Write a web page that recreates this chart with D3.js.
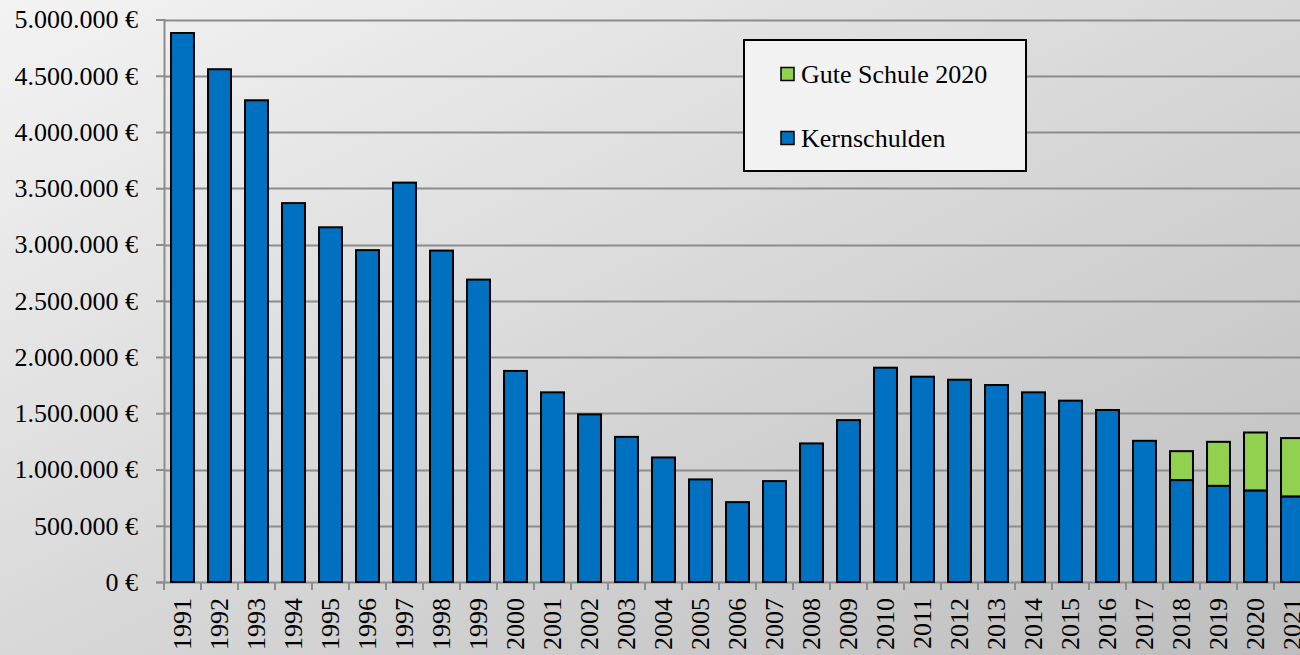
<!DOCTYPE html>
<html>
<head>
<meta charset="utf-8">
<script src="https://cdn.jsdelivr.net/npm/d3@7"></script>
<style>
  html, body { margin: 0; padding: 0; overflow: hidden; }
  svg { display: block; }
  svg text { font-family: "Liberation Serif", "Times New Roman", Times, "DejaVu Serif", serif; fill: #000; }
</style>
</head>
<body>
<svg id="chart" width="1300" height="655"></svg>
<script>
const years = ["1991","1992","1993","1994","1995","1996","1997","1998","1999","2000",
  "2001","2002","2003","2004","2005","2006","2007","2008","2009","2010",
  "2011","2012","2013","2014","2015","2016","2017","2018","2019","2020","2021"];
const kernschulden = [4880000, 4558000, 4282000, 3368000, 3153000, 2950000, 3550000, 2946000, 2688000, 1876000,
  1686000, 1490000, 1290000, 1107000, 912000, 710000, 897000, 1232000, 1439000, 1905000,
  1825000, 1798000, 1751000, 1686000, 1612000, 1529000, 1255000, 906000, 855000, 814000, 761000];
const guteSchule = [0,0,0,0,0,0,0,0,0,0, 0,0,0,0,0,0,0,0,0,0, 0,0,0,0,0,0,0, 257000, 391000, 515000, 518000];
const yTicks = [0, 500000, 1000000, 1500000, 2000000, 2500000, 3000000, 3500000, 4000000, 4500000, 5000000];
const seriesNames = ["Gute Schule 2020", "Kernschulden"];
const seriesColors = ["#92d050", "#0070c0"];

const FONT = "'Liberation Serif', 'Times New Roman', Times, 'DejaVu Serif', serif";
const FS = 26;
const svg = d3.select("#chart");
const W = 1300, H = 655;

const defs = svg.append("defs");
const grad = defs.append("linearGradient").attr("id", "bg")
  .attr("x1", 0).attr("y1", 0).attr("x2", 1).attr("y2", 1);
grad.append("stop").attr("offset", "0%").attr("stop-color", "#f3f3f3");
grad.append("stop").attr("offset", "100%").attr("stop-color", "#bdbdbd");
svg.append("rect").attr("width", W).attr("height", H).attr("fill", "url(#bg)");

const x0 = 164, x1 = 164 + years.length * 37;
const y = d3.scaleLinear().domain([0, 5000000]).range([582, 19.5]);
const x = d3.scaleBand().domain(years).range([x0, x1]).paddingInner(0.38).paddingOuter(0.19);

const fmt = v => d3.format(",")(v).replace(/,/g, ".") + " €";

// gridlines
svg.append("g").selectAll("line").data(yTicks.filter(d => d > 0)).join("line")
  .attr("x1", x0).attr("x2", W)
  .attr("y1", d => Math.round(y(d)) + 0.5).attr("y2", d => Math.round(y(d)) + 0.5)
  .attr("stroke", "#8c8c8c").attr("stroke-width", 2);

// y axis
const yAxis = d3.axisLeft(y).tickValues(yTicks).tickFormat(fmt).tickSize(8).tickPadding(18);
const gy = svg.append("g").attr("transform", `translate(${x0},0)`).call(yAxis)
  .attr("font-family", FONT).attr("font-size", FS);
gy.select(".domain").attr("stroke", "#8c8c8c").attr("stroke-width", 2);
gy.selectAll(".tick line").attr("stroke", "#8c8c8c").attr("stroke-width", 2);
gy.selectAll(".tick text").attr("font-size", FS).attr("fill", "#000");

// x axis baseline and ticks at band boundaries
svg.append("line").attr("x1", x0).attr("x2", W).attr("y1", 582.5).attr("y2", 582.5)
  .attr("stroke", "#8c8c8c").attr("stroke-width", 2);
const step = x.step();
svg.append("g").selectAll("line").data(d3.range(years.length + 1)).join("line")
  .attr("x1", i => x0 + i * step).attr("x2", i => x0 + i * step)
  .attr("y1", 582).attr("y2", 590)
  .attr("stroke", "#8c8c8c").attr("stroke-width", 2);

// bars
const stackData = years.map((yr, i) => ({year: yr, kern: kernschulden[i], gute: guteSchule[i]}));
const stack = d3.stack().keys(["kern", "gute"])(stackData);
const colorByKey = {kern: seriesColors[1], gute: seriesColors[0]};
svg.append("g").selectAll("g").data(stack).join("g")
  .attr("fill", d => colorByKey[d.key])
  .selectAll("rect").data(d => d.filter(p => p[1] - p[0] > 0)).join("rect")
  .attr("x", d => x(d.data.year))
  .attr("width", x.bandwidth())
  .attr("y", d => y(d[1]))
  .attr("height", d => y(d[0]) - y(d[1]))
  .attr("stroke", "#000").attr("stroke-width", 2);

// x labels
svg.append("g").selectAll("text").data(years).join("text")
  .attr("transform", d => `translate(${x(d) + x.bandwidth() / 2},598) rotate(-90)`)
  .attr("text-anchor", "end")
  .attr("dominant-baseline", "central")
  .attr("font-size", FS)
  .text(d => d);

// legend
const lg = svg.append("g");
lg.append("rect").attr("x", 744).attr("y", 40).attr("width", 282).attr("height", 131)
  .attr("fill", "#f2f2f2").attr("stroke", "#000").attr("stroke-width", 2);
const items = lg.selectAll("g.item").data(seriesNames).join("g")
  .attr("transform", (d, i) => `translate(781,${74 + i * 64})`);
items.append("rect").attr("x", 0).attr("y", -6.5).attr("width", 13).attr("height", 13)
  .attr("fill", (d, i) => seriesColors[i]).attr("stroke", "#000").attr("stroke-width", 1.5);
items.append("text").attr("x", 20).attr("y", 0).attr("dominant-baseline", "central")
  .attr("font-size", FS).text(d => d);
</script>
</body>
</html>
